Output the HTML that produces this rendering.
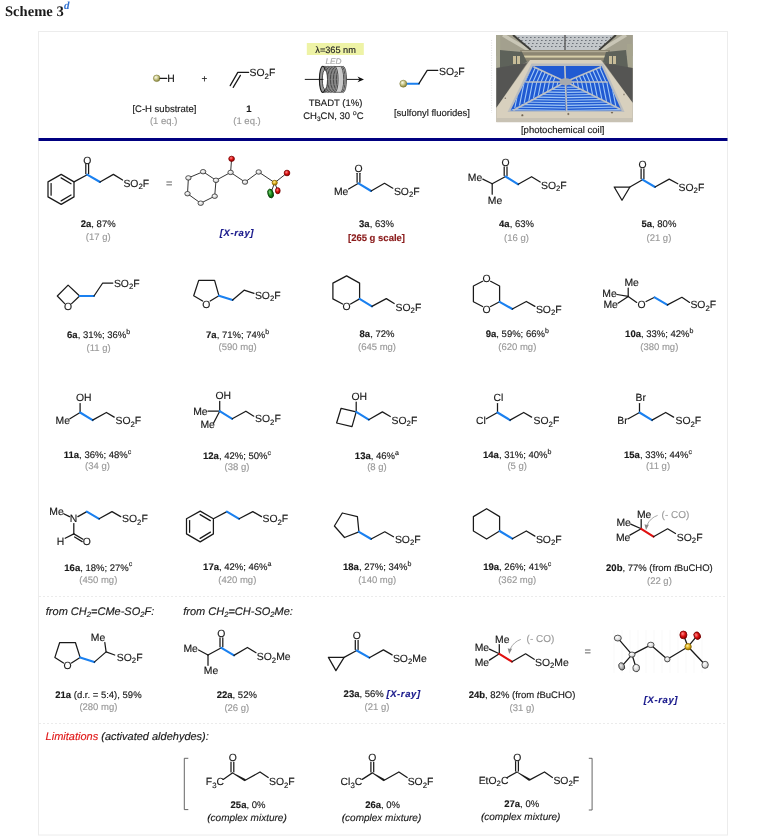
<!DOCTYPE html>
<html><head><meta charset="utf-8">
<style>
html,body{margin:0;padding:0;background:#fff;}
body{width:763px;height:838px;overflow:hidden;position:relative;}
svg{position:absolute;left:0;top:0;will-change:transform;}
text{font-family:"Liberation Sans",sans-serif;stroke-width:0.15px;stroke-linejoin:round;text-rendering:geometricPrecision;}
</style></head><body>
<svg width="763" height="838" viewBox="0 0 763 838">
<defs>
<radialGradient id="ballg" cx="0.38" cy="0.35" r="0.7"><stop offset="0" stop-color="#fbfbee"/><stop offset="0.4" stop-color="#d2cf96"/><stop offset="1" stop-color="#7e7c2c"/></radialGradient>
<radialGradient id="atg" cx="0.4" cy="0.35" r="0.7"><stop offset="0" stop-color="#ffffff"/><stop offset="0.7" stop-color="#d6d6d6"/><stop offset="1" stop-color="#999"/></radialGradient>
<radialGradient id="atg2" cx="0.4" cy="0.35" r="0.7"><stop offset="0" stop-color="#eeeeee"/><stop offset="0.6" stop-color="#aaaaaa"/><stop offset="1" stop-color="#666"/></radialGradient>
<radialGradient id="redg" cx="0.4" cy="0.35" r="0.7"><stop offset="0" stop-color="#ff8a8a"/><stop offset="0.5" stop-color="#dd1010"/><stop offset="1" stop-color="#800000"/></radialGradient>
<radialGradient id="greeng" cx="0.4" cy="0.35" r="0.7"><stop offset="0" stop-color="#7cd07c"/><stop offset="0.5" stop-color="#1a8a1a"/><stop offset="1" stop-color="#0a400a"/></radialGradient>
<radialGradient id="yelg" cx="0.4" cy="0.35" r="0.7"><stop offset="0" stop-color="#fff2a0"/><stop offset="0.5" stop-color="#e0b020"/><stop offset="1" stop-color="#8a6a00"/></radialGradient>
</defs>
<text x="5" y="16.2" font-size="14.6" font-weight="bold" fill="#1a1a1a" style="font-family:'Liberation Serif',serif">Scheme 3</text>
<text x="64.0" y="9.0" font-size="11" font-weight="bold" font-style="italic" fill="#2e6fd0" style="font-family:'Liberation Serif',serif">d</text>
<rect x="38.5" y="31.5" width="689" height="803.5" fill="#fff" stroke="#ececec" stroke-width="1"/>
<rect x="38.5" y="138" width="689" height="3" fill="#000080"/>
<defs><clipPath id="bluclip"><path d="M533,66 L601.5,66 L621.5,110.5 L510.5,110.5 Z"/></clipPath><clipPath id="photoclip"><rect x="496.2" y="35" width="136.6" height="87.3"/></clipPath></defs>
<g clip-path="url(#photoclip)">
<rect x="496.2" y="35" width="136.6" height="87.3" fill="#8a887c"/>
<path d="M496.2,35 L517,35 L532,51 L532,56 L496.2,56 Z" fill="#a3a08e"/>
<path d="M612,35 L632.8,35 L632.8,56 L598,56 L598,51 Z" fill="#a3a08e"/>
<path d="M503,35 L532,52" stroke="#c9c6b6" stroke-width="3.5"/>
<path d="M626,35 L598,52" stroke="#c9c6b6" stroke-width="3.5"/>
<rect x="496.2" y="35" width="4" height="40" fill="#a9a893"/>
<rect x="627" y="44" width="5.8" height="36" fill="#a6a48e"/>
<path d="M515,35 L614,35 L599,50 L531,50 Z" fill="#c3c7ca"/>
<path d="M518,37.5 L611,37.5" stroke="#6d737a" stroke-width="1.1" stroke-dasharray="1.6,2.4"/>
<path d="M521,40.5 L608,40.5" stroke="#6d737a" stroke-width="1.1" stroke-dasharray="1.6,2.4"/>
<path d="M524,43.5 L605,43.5" stroke="#6d737a" stroke-width="1.1" stroke-dasharray="1.6,2.4"/>
<path d="M527,46.5 L602,46.5" stroke="#6d737a" stroke-width="1.1" stroke-dasharray="1.6,2.4"/>
<path d="M513,35 L531,50 M616,35 L599,50" stroke="#3e3e3a" stroke-width="1.8"/>
<path d="M565,35 L565,50" stroke="#5a5a5a" stroke-width="1.4"/>
<rect x="520" y="50" width="90" height="11" fill="#8c8672"/>
<rect x="524" y="55.6" width="82" height="2" fill="#d6cea8"/>
<rect x="522" y="51" width="86" height="1.2" fill="#b0aa94"/>
<path d="M500,50 L522,52 L527,62 L508,70 L500,68 Z" fill="#5e625a"/>
<path d="M606,52 L626,50 L628,68 L619,70 L603,62 Z" fill="#5e625a"/>
<rect x="513" y="56" width="3" height="8" fill="#c8bc98"/><rect x="517" y="56" width="3" height="8" fill="#c8bc98"/>
<rect x="609" y="56" width="3" height="8" fill="#c8bc98"/><rect x="613" y="56" width="3" height="8" fill="#c8bc98"/>
<path d="M496.2,68 L527,63 L496.2,108 Z" fill="#555553"/>
<path d="M604,63 L632.8,68 L632.8,103 Z" fill="#555553"/>
<path d="M530,60 L601,60 L632.8,103 L632.8,122.3 L496.2,122.3 L496.2,108 Z" fill="#d8d0be"/>
<path d="M496.2,118 L632.8,118 L632.8,122.3 L496.2,122.3 Z" fill="#c8c2b4"/>
<path d="M531.5,63.5 L603,63.5 L624.5,112 L507.5,112 Z" fill="#b9bcbf"/>
<path d="M533,66 L601.5,66 L621.5,110.5 L510.5,110.5 Z" fill="#205ad2"/>
<defs><clipPath id="secLL"><path d="M565.7,81.8 L520,82 L507,112 Z"/></clipPath><clipPath id="secLR"><path d="M565.7,81.8 L612,82 L625,112 Z"/></clipPath><clipPath id="secB"><path d="M565.7,81.8 L507,112 L625,112 Z"/></clipPath><clipPath id="secUL"><path d="M565.7,81.8 L520,82 L533,66 Z"/></clipPath><clipPath id="secUR"><path d="M565.7,81.8 L612,82 L601.5,66 Z"/></clipPath><clipPath id="secT"><path d="M565.7,81.8 L533,66 L601.5,66 Z"/></clipPath></defs>
<g clip-path="url(#bluclip)"><g clip-path="url(#secLL)" fill="none"><path d="M520.0,82 L514.0,112 M524.2,82 L518.2,112 M528.4,82 L522.4,112 M532.6,82 L526.6,112 M536.8,82 L530.8,112 M541.0,82 L535.0,112 M545.2,82 L539.2,112 M549.4,82 L543.4,112 M553.6,82 L547.6,112 M557.8,82 L551.8,112 M562.0,82 L556.0,112 M566.2,82 L560.2,112" stroke="#a8cef8" stroke-width="1.15" opacity="0.95"/></g></g>
<g clip-path="url(#bluclip)"><g clip-path="url(#secLR)" fill="none"><path d="M611.0,82 L617.0,112 M606.8,82 L612.8,112 M602.6,82 L608.6,112 M598.4,82 L604.4,112 M594.2,82 L600.2,112 M590.0,82 L596.0,112 M585.8,82 L591.8,112 M581.6,82 L587.6,112 M577.4,82 L583.4,112 M573.2,82 L579.2,112 M569.0,82 L575.0,112 M564.8,82 L570.8,112" stroke="#a8cef8" stroke-width="1.15" opacity="0.95"/></g></g>
<g clip-path="url(#bluclip)"><g clip-path="url(#secB)" fill="none"><path d="M500,86.0 L565,87.2 M632,86.0 L567,87.2 M500,88.6 L565,89.8 M632,88.6 L567,89.8 M500,91.2 L565,92.4 M632,91.2 L567,92.4 M500,93.8 L565,95.0 M632,93.8 L567,95.0 M500,96.4 L565,97.6 M632,96.4 L567,97.6 M500,99.0 L565,100.2 M632,99.0 L567,100.2 M500,101.6 L565,102.8 M632,101.6 L567,102.8 M500,104.2 L565,105.4 M632,104.2 L567,105.4 M500,106.8 L565,108.0 M632,106.8 L567,108.0 M500,109.4 L565,110.6 M632,109.4 L567,110.6 M500,112.0 L565,113.2 M632,112.0 L567,113.2" stroke="#a8cef8" stroke-width="1.15" opacity="0.95"/></g></g>
<g clip-path="url(#bluclip)"><g clip-path="url(#secUL)" fill="none"><path d="M525.0,82 L532.0,66 M529.0,82 L536.0,66 M533.0,82 L540.0,66 M537.0,82 L544.0,66 M541.0,82 L548.0,66 M545.0,82 L552.0,66 M549.0,82 L556.0,66 M553.0,82 L560.0,66" stroke="#a8cef8" stroke-width="1.15" opacity="0.95"/></g></g>
<g clip-path="url(#bluclip)"><g clip-path="url(#secUR)" fill="none"><path d="M606.0,82 L599.0,66 M602.0,82 L595.0,66 M598.0,82 L591.0,66 M594.0,82 L587.0,66 M590.0,82 L583.0,66 M586.0,82 L579.0,66 M582.0,82 L575.0,66 M578.0,82 L571.0,66" stroke="#a8cef8" stroke-width="1.15" opacity="0.95"/></g></g>
<g stroke="#bcc0c4" stroke-width="1.7" stroke-linecap="round"><line x1="564.8" y1="66" x2="566.6" y2="110.5"/><line x1="526" y1="82" x2="607" y2="82"/><line x1="534" y1="67" x2="565.7" y2="81.8"/><line x1="600.5" y1="67" x2="565.7" y2="81.8"/><line x1="514" y1="110" x2="565.7" y2="81.8"/><line x1="620" y1="109" x2="565.7" y2="81.8"/></g>
<ellipse cx="565.7" cy="81.8" rx="6.5" ry="3.6" fill="#a6aaae"/>
<g fill="#6a5a40" stroke="#eee" stroke-width="0.4"><circle cx="522.3" cy="115.2" r="1.2"/><circle cx="568.3" cy="114" r="1.2"/><circle cx="612" cy="112.6" r="1.2"/><circle cx="505.3" cy="98.2" r="0.9"/><circle cx="624" cy="94.4" r="0.9"/></g>
</g>
<circle cx="156.7" cy="78.3" r="3.3" fill="url(#ballg)" stroke="#7c7a3a" stroke-width="0.6"/>
<path d="M160.0,78.3 L166.8,78.3" fill="none" stroke="#1a1a1a" stroke-width="1.25" stroke-linecap="round" stroke-linejoin="round"/>
<text x="167.3" y="82.2" font-size="10.4" text-anchor="start" font-weight="normal" font-style="normal" fill="#1a1a1a"  stroke="#1a1a1a">H</text>
<text x="204.5" y="81.8" font-size="10" text-anchor="middle" font-weight="normal" font-style="normal" fill="#1a1a1a"  stroke="#1a1a1a">+</text>
<path d="M230.2,85.6 L237.8,72.4 L248.6,72.4" fill="none" stroke="#1a1a1a" stroke-width="1.25" stroke-linecap="round" stroke-linejoin="round"/>
<path d="M233.2,87.4 L240.4,75.4" fill="none" stroke="#1a1a1a" stroke-width="1.25" stroke-linecap="round" stroke-linejoin="round"/>
<text x="249.6" y="76.4" font-size="10.4" text-anchor="start" fill="#1a1a1a" stroke="#1a1a1a">SO<tspan font-size="7.8" dy="2.6">2</tspan><tspan dy="-2.6">F</tspan></text>
<text x="164.4" y="111.8" font-size="9.5" text-anchor="middle" font-weight="normal" font-style="normal" fill="#1a1a1a"  stroke="#1a1a1a">[C-H substrate]</text>
<text x="163.7" y="124.2" font-size="9.5" text-anchor="middle" font-weight="normal" font-style="normal" fill="#9a9a9a"  stroke="#9a9a9a">(1 eq.)</text>
<text x="248.8" y="111.5" font-size="9.5" text-anchor="middle" font-weight="bold" font-style="normal" fill="#1a1a1a"  stroke="#1a1a1a">1</text>
<text x="247.0" y="124.2" font-size="9.5" text-anchor="middle" font-weight="normal" font-style="normal" fill="#9a9a9a"  stroke="#9a9a9a">(1 eq.)</text>
<rect x="306.8" y="43" width="57" height="12" fill="#eef3a6"/>
<text x="335.6" y="52.6" font-size="9.2" text-anchor="middle" font-weight="normal" font-style="normal" fill="#222"  stroke="#222">&#955;=365 nm</text>
<text x="333.5" y="64.0" font-size="8.3" text-anchor="middle" font-weight="normal" font-style="italic" fill="#aaaaaa"  stroke="#aaaaaa">LED</text>
<path d="M305.2,79.4 L322.0,79.4" fill="none" stroke="#1a1a1a" stroke-width="1.0" stroke-linecap="round" stroke-linejoin="round"/>
<path d="M346.6,79.4 L361.5,79.4" fill="none" stroke="#1a1a1a" stroke-width="1.0" stroke-linecap="round" stroke-linejoin="round"/>
<path d="M364,79.4 L357.5,76.6 L359.5,79.4 L357.5,82.2 Z" fill="#111"/>
<g>
<ellipse cx="343.2" cy="79.4" rx="3.3" ry="13.0" fill="#c8c8c8" stroke="#262626" stroke-width="0.75"/>
<ellipse cx="341.8" cy="79.4" rx="3.3" ry="13.0" fill="#c8c8c8" stroke="#262626" stroke-width="0.75"/>
<ellipse cx="340.4" cy="79.4" rx="3.3" ry="13.0" fill="#c8c8c8" stroke="#262626" stroke-width="0.75"/>
<rect x="334.5" y="66.5" width="5.5" height="25.8" fill="#d0d0d0"/>
<path d="M334.5,66.5 L340,66.5 M334.5,92.3 L340,92.3" stroke="#333" stroke-width="0.7"/>
<ellipse cx="334.8" cy="79.4" rx="3.3" ry="13.0" fill="#bdbdbd" stroke="#262626" stroke-width="0.75"/>
<ellipse cx="333.3" cy="79.4" rx="3.3" ry="13.0" fill="#bdbdbd" stroke="#262626" stroke-width="0.75"/>
<ellipse cx="331.8" cy="79.4" rx="3.3" ry="13.0" fill="#bdbdbd" stroke="#262626" stroke-width="0.75"/>
<ellipse cx="330.3" cy="79.4" rx="3.3" ry="13.0" fill="#bdbdbd" stroke="#262626" stroke-width="0.75"/>
<ellipse cx="328.8" cy="79.4" rx="3.3" ry="13.0" fill="#bdbdbd" stroke="#262626" stroke-width="0.75"/>
<ellipse cx="327.3" cy="79.4" rx="3.3" ry="13.0" fill="#bdbdbd" stroke="#262626" stroke-width="0.75"/>
<ellipse cx="325.8" cy="79.4" rx="3.3" ry="13.0" fill="#bdbdbd" stroke="#262626" stroke-width="0.75"/>
<ellipse cx="324.3" cy="79.4" rx="3.3" ry="13.0" fill="#bdbdbd" stroke="#262626" stroke-width="0.75"/>
<ellipse cx="322.8" cy="79.4" rx="3.4" ry="13.1" fill="#9a9a9a" stroke="#1a1a1a" stroke-width="1.1"/>
<ellipse cx="324.9" cy="79.6" rx="2.6" ry="9.8" fill="#fff" stroke="#2a2a2a" stroke-width="0.8"/>
</g>
<path d="M319.5,79.4 L323.0,79.4" fill="none" stroke="#1a1a1a" stroke-width="1.0" stroke-linecap="round" stroke-linejoin="round"/>
<text x="335.5" y="106.4" font-size="9.5" text-anchor="middle" font-weight="normal" font-style="normal" fill="#1a1a1a"  stroke="#1a1a1a">TBADT (1%)</text>
<text x="333.4" y="118.8" font-size="9.5" text-anchor="middle" fill="#1a1a1a" stroke="#1a1a1a">CH<tspan font-size="6.5" dy="2">3</tspan><tspan dy="-2">CN, 30 </tspan><tspan font-size="7" dy="-3.8">o</tspan><tspan dy="3.8">C</tspan></text>
<path d="M406.3,83.7 L418.9,83.7" fill="none" stroke="#1a80f0" stroke-width="2.1" stroke-linecap="round" stroke-linejoin="round"/>
<path d="M418.9,83.7 L427.2,70.3 L437.8,70.3" fill="none" stroke="#1a1a1a" stroke-width="1.25" stroke-linecap="round" stroke-linejoin="round"/>
<circle cx="403.3" cy="83.7" r="3.5" fill="url(#ballg)" stroke="#7c7a3a" stroke-width="0.6"/>
<text x="439.0" y="74.8" font-size="10.4" text-anchor="start" fill="#1a1a1a" stroke="#1a1a1a">SO<tspan font-size="7.8" dy="2.6">2</tspan><tspan dy="-2.6">F</tspan></text>
<text x="432.0" y="116.0" font-size="9.5" text-anchor="middle" font-weight="normal" font-style="normal" fill="#1a1a1a"  stroke="#1a1a1a">[sulfonyl fluorides]</text>
<line x1="491.6" y1="40" x2="491.6" y2="113" stroke="#d8d8d8" stroke-width="0.8" stroke-dasharray="1,1.5"/>
<text x="562.7" y="133.2" font-size="9.5" text-anchor="middle" font-weight="normal" font-style="normal" fill="#1a1a1a"  stroke="#1a1a1a">[photochemical coil]</text>
<path d="M61.2,174.4 L74.0,181.9 L74.0,196.9 L61.2,204.4 L48.0,196.9 L48.0,181.9 Z" fill="none" stroke="#1a1a1a" stroke-width="1.25" stroke-linejoin="round"/>
<path d="M61.1,177.9 L71.0,183.8" fill="none" stroke="#1a1a1a" stroke-width="1.25" stroke-linecap="round" stroke-linejoin="round"/>
<path d="M71.0,195.0 L61.1,200.9" fill="none" stroke="#1a1a1a" stroke-width="1.25" stroke-linecap="round" stroke-linejoin="round"/>
<path d="M51.1,195.2 L51.1,183.6" fill="none" stroke="#1a1a1a" stroke-width="1.25" stroke-linecap="round" stroke-linejoin="round"/>
<path d="M74.0,181.9 L87.2,174.7" fill="none" stroke="#1a1a1a" stroke-width="1.25" stroke-linecap="round" stroke-linejoin="round"/>
<path d="M85.8,173.7 L85.8,164.0" fill="none" stroke="#1a1a1a" stroke-width="1.25" stroke-linecap="round" stroke-linejoin="round"/>
<path d="M88.6,173.7 L88.6,164.0" fill="none" stroke="#1a1a1a" stroke-width="1.25" stroke-linecap="round" stroke-linejoin="round"/>
<text x="87.2" y="164.0" font-size="10.4" text-anchor="middle" font-weight="normal" font-style="normal" fill="#1a1a1a"  stroke="#1a1a1a">O</text>
<path d="M87.2,174.7 L100.0,182.0" fill="none" stroke="#1a80f0" stroke-width="2.1" stroke-linecap="round" stroke-linejoin="round"/>
<path d="M100.0,182.0 L113.4,174.4 L122.6,180.0" fill="none" stroke="#1a1a1a" stroke-width="1.25" stroke-linecap="round" stroke-linejoin="round"/>
<text x="123.4" y="186.5" font-size="10.4" text-anchor="start" fill="#1a1a1a" stroke="#1a1a1a">SO<tspan font-size="7.8" dy="2.6">2</tspan><tspan dy="-2.6">F</tspan></text>
<text x="98.2" y="227.3" font-size="9.5" text-anchor="middle" font-weight="normal" font-style="normal" fill="#1a1a1a"  stroke="#1a1a1a"><tspan font-weight="bold">2a</tspan>, 87%</text>
<text x="98.2" y="240.1" font-size="9.5" text-anchor="middle" font-weight="normal" font-style="normal" fill="#9a9a9a"  stroke="#9a9a9a">(17 g)</text>
<text x="169.2" y="187.3" font-size="11" text-anchor="middle" font-weight="normal" font-style="normal" fill="#888"  stroke="#888">=</text>
<path d="M203.1,171.7 L216.0,180.3 L214.7,196.2 L200.7,203.2 L187.5,193.7 L188.4,177.9 Z" fill="none" stroke="#2a2a2a" stroke-width="0.95" stroke-linejoin="round"/>
<path d="M216.0,180.3 L230.6,172.4 L245.0,182.1 L258.7,172.0 L274.7,182.7" fill="none" stroke="#2a2a2a" stroke-width="0.95" stroke-linecap="round" stroke-linejoin="round"/>
<path d="M230.6,172.4 L231.6,158.8" fill="none" stroke="#2a2a2a" stroke-width="0.95" stroke-linecap="round" stroke-linejoin="round"/>
<path d="M274.7,182.7 L287.0,173.0" fill="none" stroke="#2a2a2a" stroke-width="0.95" stroke-linecap="round" stroke-linejoin="round"/>
<path d="M274.7,182.7 L277.8,190.7" fill="none" stroke="#2a2a2a" stroke-width="0.95" stroke-linecap="round" stroke-linejoin="round"/>
<path d="M274.7,182.7 L270.6,193.5" fill="none" stroke="#2a2a2a" stroke-width="0.95" stroke-linecap="round" stroke-linejoin="round"/>
<ellipse cx="203.1" cy="171.7" rx="2.71" ry="2.24" transform="rotate(0 203.1 171.7)" fill="url(#atg)" stroke="#333" stroke-width="0.8"/>
<ellipse cx="216.0" cy="180.3" rx="2.71" ry="2.24" transform="rotate(0 216.0 180.3)" fill="url(#atg)" stroke="#333" stroke-width="0.8"/>
<ellipse cx="214.7" cy="196.2" rx="2.71" ry="2.24" transform="rotate(0 214.7 196.2)" fill="url(#atg)" stroke="#333" stroke-width="0.8"/>
<ellipse cx="200.7" cy="203.2" rx="2.71" ry="2.24" transform="rotate(0 200.7 203.2)" fill="url(#atg)" stroke="#333" stroke-width="0.8"/>
<ellipse cx="187.5" cy="193.7" rx="2.71" ry="2.24" transform="rotate(0 187.5 193.7)" fill="url(#atg)" stroke="#333" stroke-width="0.8"/>
<ellipse cx="188.4" cy="177.9" rx="2.71" ry="2.24" transform="rotate(0 188.4 177.9)" fill="url(#atg)" stroke="#333" stroke-width="0.8"/>
<ellipse cx="230.6" cy="172.4" rx="2.71" ry="2.24" transform="rotate(0 230.6 172.4)" fill="url(#atg)" stroke="#333" stroke-width="0.8"/>
<ellipse cx="245.0" cy="182.1" rx="2.71" ry="2.24" transform="rotate(0 245.0 182.1)" fill="url(#atg)" stroke="#333" stroke-width="0.8"/>
<ellipse cx="258.7" cy="172.0" rx="2.71" ry="2.24" transform="rotate(0 258.7 172.0)" fill="url(#atg)" stroke="#333" stroke-width="0.8"/>
<ellipse cx="231.6" cy="158.8" rx="2.83" ry="2.60" transform="rotate(0 231.6 158.8)" fill="url(#redg)" stroke="#700" stroke-width="0.8"/>
<ellipse cx="287.0" cy="173.0" rx="2.83" ry="2.83" transform="rotate(0 287.0 173.0)" fill="url(#redg)" stroke="#700" stroke-width="0.8"/>
<ellipse cx="277.8" cy="190.7" rx="2.36" ry="3.07" transform="rotate(0 277.8 190.7)" fill="url(#redg)" stroke="#700" stroke-width="0.8"/>
<ellipse cx="270.6" cy="193.5" rx="2.71" ry="4.48" transform="rotate(-15 270.6 193.5)" fill="url(#greeng)" stroke="#030" stroke-width="0.8"/>
<ellipse cx="274.7" cy="182.7" rx="2.60" ry="2.36" transform="rotate(0 274.7 182.7)" fill="url(#yelg)" stroke="#860" stroke-width="0.8"/>
<text x="237.0" y="236.2" font-size="9.5" text-anchor="middle" font-weight="bold" font-style="italic" fill="#1a1a8c" letter-spacing="0.6" stroke="#1a1a8c">[X-ray]</text>
<text x="341.2" y="194.8" font-size="10.4" text-anchor="middle" font-weight="normal" font-style="normal" fill="#1a1a1a"  stroke="#1a1a1a">Me</text>
<path d="M348.6,189.0 L358.5,183.3" fill="none" stroke="#1a1a1a" stroke-width="1.25" stroke-linecap="round" stroke-linejoin="round"/>
<path d="M357.1,182.3 L357.1,173.3" fill="none" stroke="#1a1a1a" stroke-width="1.25" stroke-linecap="round" stroke-linejoin="round"/>
<path d="M359.9,182.3 L359.9,173.3" fill="none" stroke="#1a1a1a" stroke-width="1.25" stroke-linecap="round" stroke-linejoin="round"/>
<text x="358.5" y="172.0" font-size="10.4" text-anchor="middle" font-weight="normal" font-style="normal" fill="#1a1a1a"  stroke="#1a1a1a">O</text>
<path d="M358.5,183.3 L371.1,191.0" fill="none" stroke="#1a80f0" stroke-width="2.1" stroke-linecap="round" stroke-linejoin="round"/>
<path d="M371.1,191.0 L384.5,183.3 L392.8,188.2" fill="none" stroke="#1a1a1a" stroke-width="1.25" stroke-linecap="round" stroke-linejoin="round"/>
<text x="393.9" y="194.8" font-size="10.4" text-anchor="start" fill="#1a1a1a" stroke="#1a1a1a">SO<tspan font-size="7.8" dy="2.6">2</tspan><tspan dy="-2.6">F</tspan></text>
<text x="376.5" y="227.1" font-size="9.5" text-anchor="middle" font-weight="normal" font-style="normal" fill="#1a1a1a"  stroke="#1a1a1a"><tspan font-weight="bold">3a</tspan>, 63%</text>
<text x="376.5" y="240.5" font-size="9.5" text-anchor="middle" font-weight="bold" font-style="normal" fill="#8b1c1c"  stroke="#8b1c1c">[265 g scale]</text>
<text x="475.0" y="180.7" font-size="10.4" text-anchor="middle" font-weight="normal" font-style="normal" fill="#1a1a1a"  stroke="#1a1a1a">Me</text>
<path d="M482.8,179.1 L492.2,183.8" fill="none" stroke="#1a1a1a" stroke-width="1.25" stroke-linecap="round" stroke-linejoin="round"/>
<path d="M492.2,183.8 L492.2,194.2" fill="none" stroke="#1a1a1a" stroke-width="1.25" stroke-linecap="round" stroke-linejoin="round"/>
<text x="495.0" y="203.5" font-size="10.4" text-anchor="middle" font-weight="normal" font-style="normal" fill="#1a1a1a"  stroke="#1a1a1a">Me</text>
<path d="M492.2,183.8 L505.6,176.5" fill="none" stroke="#1a1a1a" stroke-width="1.25" stroke-linecap="round" stroke-linejoin="round"/>
<path d="M504.2,175.5 L504.2,166.8" fill="none" stroke="#1a1a1a" stroke-width="1.25" stroke-linecap="round" stroke-linejoin="round"/>
<path d="M507.0,175.5 L507.0,166.8" fill="none" stroke="#1a1a1a" stroke-width="1.25" stroke-linecap="round" stroke-linejoin="round"/>
<text x="505.6" y="165.7" font-size="10.4" text-anchor="middle" font-weight="normal" font-style="normal" fill="#1a1a1a"  stroke="#1a1a1a">O</text>
<path d="M505.6,176.5 L518.2,184.3" fill="none" stroke="#1a80f0" stroke-width="2.1" stroke-linecap="round" stroke-linejoin="round"/>
<path d="M518.2,184.3 L531.6,176.7 L540.2,182.0" fill="none" stroke="#1a1a1a" stroke-width="1.25" stroke-linecap="round" stroke-linejoin="round"/>
<text x="541.0" y="188.5" font-size="10.4" text-anchor="start" fill="#1a1a1a" stroke="#1a1a1a">SO<tspan font-size="7.8" dy="2.6">2</tspan><tspan dy="-2.6">F</tspan></text>
<text x="516.5" y="227.3" font-size="9.5" text-anchor="middle" font-weight="normal" font-style="normal" fill="#1a1a1a"  stroke="#1a1a1a"><tspan font-weight="bold">4a</tspan>, 63%</text>
<text x="516.5" y="240.9" font-size="9.5" text-anchor="middle" font-weight="normal" font-style="normal" fill="#9a9a9a"  stroke="#9a9a9a">(16 g)</text>
<path d="M614.2,187.0 L629.9,187.0 L622.0,200.3 Z" fill="none" stroke="#1a1a1a" stroke-width="1.25" stroke-linejoin="round"/>
<path d="M629.9,187.0 L642.5,179.7" fill="none" stroke="#1a1a1a" stroke-width="1.25" stroke-linecap="round" stroke-linejoin="round"/>
<path d="M641.1,178.7 L641.1,168.8" fill="none" stroke="#1a1a1a" stroke-width="1.25" stroke-linecap="round" stroke-linejoin="round"/>
<path d="M643.9,178.7 L643.9,168.8" fill="none" stroke="#1a1a1a" stroke-width="1.25" stroke-linecap="round" stroke-linejoin="round"/>
<text x="642.5" y="167.6" font-size="10.4" text-anchor="middle" font-weight="normal" font-style="normal" fill="#1a1a1a"  stroke="#1a1a1a">O</text>
<path d="M642.5,179.7 L655.0,187.0" fill="none" stroke="#1a80f0" stroke-width="2.1" stroke-linecap="round" stroke-linejoin="round"/>
<path d="M655.0,187.0 L669.2,179.1 L677.8,183.8" fill="none" stroke="#1a1a1a" stroke-width="1.25" stroke-linecap="round" stroke-linejoin="round"/>
<text x="678.6" y="190.6" font-size="10.4" text-anchor="start" fill="#1a1a1a" stroke="#1a1a1a">SO<tspan font-size="7.8" dy="2.6">2</tspan><tspan dy="-2.6">F</tspan></text>
<text x="658.9" y="227.3" font-size="9.5" text-anchor="middle" font-weight="normal" font-style="normal" fill="#1a1a1a"  stroke="#1a1a1a"><tspan font-weight="bold">5a</tspan>, 80%</text>
<text x="658.9" y="240.9" font-size="9.5" text-anchor="middle" font-weight="normal" font-style="normal" fill="#9a9a9a"  stroke="#9a9a9a">(21 g)</text>
<path d="M64.7,303.6 L57.3,296.0 L68.1,285.1 L79.6,296.0 L71.6,303.6" fill="none" stroke="#1a1a1a" stroke-width="1.25" stroke-linecap="round" stroke-linejoin="round"/>
<text x="68.1" y="310.4" font-size="10.4" text-anchor="middle" font-weight="normal" font-style="normal" fill="#1a1a1a"  stroke="#1a1a1a">O</text>
<path d="M79.6,296.0 L94.0,296.0" fill="none" stroke="#1a80f0" stroke-width="2.1" stroke-linecap="round" stroke-linejoin="round"/>
<path d="M94.0,296.0 L102.7,283.0 L112.8,283.0" fill="none" stroke="#1a1a1a" stroke-width="1.25" stroke-linecap="round" stroke-linejoin="round"/>
<text x="113.9" y="286.6" font-size="10.4" text-anchor="start" fill="#1a1a1a" stroke="#1a1a1a">SO<tspan font-size="7.8" dy="2.6">2</tspan><tspan dy="-2.6">F</tspan></text>
<text x="98.6" y="338.1" font-size="9.5" text-anchor="middle" font-weight="normal" font-style="normal" fill="#1a1a1a"  stroke="#1a1a1a"><tspan font-weight="bold">6a</tspan>, 31%; 36%<tspan font-size="7" dy="-4.2">b</tspan></text>
<text x="98.6" y="350.5" font-size="9.5" text-anchor="middle" font-weight="normal" font-style="normal" fill="#9a9a9a"  stroke="#9a9a9a">(11 g)</text>
<path d="M202.6,301.0 L193.7,295.7 L198.7,280.4 L214.6,280.4 L218.9,295.7 L210.2,301.0" fill="none" stroke="#1a1a1a" stroke-width="1.25" stroke-linecap="round" stroke-linejoin="round"/>
<text x="206.3" y="307.8" font-size="10.4" text-anchor="middle" font-weight="normal" font-style="normal" fill="#1a1a1a"  stroke="#1a1a1a">O</text>
<path d="M218.9,295.7 L232.6,300.0" fill="none" stroke="#1a80f0" stroke-width="2.1" stroke-linecap="round" stroke-linejoin="round"/>
<path d="M232.6,300.0 L244.1,290.2 L254.0,293.4" fill="none" stroke="#1a1a1a" stroke-width="1.25" stroke-linecap="round" stroke-linejoin="round"/>
<text x="254.9" y="298.5" font-size="10.4" text-anchor="start" fill="#1a1a1a" stroke="#1a1a1a">SO<tspan font-size="7.8" dy="2.6">2</tspan><tspan dy="-2.6">F</tspan></text>
<text x="237.6" y="338.1" font-size="9.5" text-anchor="middle" font-weight="normal" font-style="normal" fill="#1a1a1a"  stroke="#1a1a1a"><tspan font-weight="bold">7a</tspan>, 71%; 74%<tspan font-size="7" dy="-4.2">b</tspan></text>
<text x="237.6" y="350.2" font-size="9.5" text-anchor="middle" font-weight="normal" font-style="normal" fill="#9a9a9a"  stroke="#9a9a9a">(590 mg)</text>
<path d="M342.6,304.0 L332.9,298.9 L332.9,283.1 L346.6,275.9 L359.6,283.1 L359.6,298.9 L350.6,304.0" fill="none" stroke="#1a1a1a" stroke-width="1.25" stroke-linecap="round" stroke-linejoin="round"/>
<text x="346.6" y="310.3" font-size="10.4" text-anchor="middle" font-weight="normal" font-style="normal" fill="#1a1a1a"  stroke="#1a1a1a">O</text>
<path d="M359.6,298.9 L371.9,306.4" fill="none" stroke="#1a80f0" stroke-width="2.1" stroke-linecap="round" stroke-linejoin="round"/>
<path d="M371.9,306.4 L386.3,298.6 L394.2,303.5" fill="none" stroke="#1a1a1a" stroke-width="1.25" stroke-linecap="round" stroke-linejoin="round"/>
<text x="395.6" y="310.5" font-size="10.4" text-anchor="start" fill="#1a1a1a" stroke="#1a1a1a">SO<tspan font-size="7.8" dy="2.6">2</tspan><tspan dy="-2.6">F</tspan></text>
<text x="377.0" y="337.4" font-size="9.5" text-anchor="middle" font-weight="normal" font-style="normal" fill="#1a1a1a"  stroke="#1a1a1a"><tspan font-weight="bold">8a</tspan>, 72%</text>
<text x="377.0" y="349.5" font-size="9.5" text-anchor="middle" font-weight="normal" font-style="normal" fill="#9a9a9a"  stroke="#9a9a9a">(645 mg)</text>
<path d="M482.6,281.3 L473.4,286.0 L473.4,301.8 L482.6,306.5" fill="none" stroke="#1a1a1a" stroke-width="1.25" stroke-linecap="round" stroke-linejoin="round"/>
<path d="M490.6,281.3 L499.6,286.0 L499.6,301.8 L490.6,306.5" fill="none" stroke="#1a1a1a" stroke-width="1.25" stroke-linecap="round" stroke-linejoin="round"/>
<text x="486.6" y="282.3" font-size="10.4" text-anchor="middle" font-weight="normal" font-style="normal" fill="#1a1a1a"  stroke="#1a1a1a">O</text>
<text x="486.6" y="312.6" font-size="10.4" text-anchor="middle" font-weight="normal" font-style="normal" fill="#1a1a1a"  stroke="#1a1a1a">O</text>
<path d="M499.6,301.8 L512.3,309.0" fill="none" stroke="#1a80f0" stroke-width="2.1" stroke-linecap="round" stroke-linejoin="round"/>
<path d="M512.3,309.0 L526.3,301.5 L534.9,306.4" fill="none" stroke="#1a1a1a" stroke-width="1.25" stroke-linecap="round" stroke-linejoin="round"/>
<text x="535.9" y="312.6" font-size="10.4" text-anchor="start" fill="#1a1a1a" stroke="#1a1a1a">SO<tspan font-size="7.8" dy="2.6">2</tspan><tspan dy="-2.6">F</tspan></text>
<text x="517.3" y="337.4" font-size="9.5" text-anchor="middle" font-weight="normal" font-style="normal" fill="#1a1a1a"  stroke="#1a1a1a"><tspan font-weight="bold">9a</tspan>, 59%; 66%<tspan font-size="7" dy="-4.2">b</tspan></text>
<text x="517.3" y="349.5" font-size="9.5" text-anchor="middle" font-weight="normal" font-style="normal" fill="#9a9a9a"  stroke="#9a9a9a">(620 mg)</text>
<text x="631.6" y="286.2" font-size="10.4" text-anchor="middle" font-weight="normal" font-style="normal" fill="#1a1a1a"  stroke="#1a1a1a">Me</text>
<text x="609.5" y="297.3" font-size="10.4" text-anchor="middle" font-weight="normal" font-style="normal" fill="#1a1a1a"  stroke="#1a1a1a">Me</text>
<text x="610.7" y="308.3" font-size="10.4" text-anchor="middle" font-weight="normal" font-style="normal" fill="#1a1a1a"  stroke="#1a1a1a">Me</text>
<path d="M628.2,296.4 L628.2,288.0" fill="none" stroke="#1a1a1a" stroke-width="1.25" stroke-linecap="round" stroke-linejoin="round"/>
<path d="M628.2,296.4 L617.0,294.5" fill="none" stroke="#1a1a1a" stroke-width="1.25" stroke-linecap="round" stroke-linejoin="round"/>
<path d="M628.2,296.4 L618.0,303.2" fill="none" stroke="#1a1a1a" stroke-width="1.25" stroke-linecap="round" stroke-linejoin="round"/>
<path d="M628.2,296.4 L636.7,302.4" fill="none" stroke="#1a1a1a" stroke-width="1.25" stroke-linecap="round" stroke-linejoin="round"/>
<text x="641.6" y="308.3" font-size="10.4" text-anchor="middle" font-weight="normal" font-style="normal" fill="#1a1a1a"  stroke="#1a1a1a">O</text>
<path d="M646.1,301.5 L654.6,297.3" fill="none" stroke="#1a1a1a" stroke-width="1.25" stroke-linecap="round" stroke-linejoin="round"/>
<path d="M654.6,297.3 L667.4,304.9" fill="none" stroke="#1a80f0" stroke-width="2.1" stroke-linecap="round" stroke-linejoin="round"/>
<path d="M667.4,304.9 L681.9,297.3 L689.6,302.4" fill="none" stroke="#1a1a1a" stroke-width="1.25" stroke-linecap="round" stroke-linejoin="round"/>
<text x="690.4" y="308.3" font-size="10.4" text-anchor="start" fill="#1a1a1a" stroke="#1a1a1a">SO<tspan font-size="7.8" dy="2.6">2</tspan><tspan dy="-2.6">F</tspan></text>
<text x="659.3" y="336.8" font-size="9.5" text-anchor="middle" font-weight="normal" font-style="normal" fill="#1a1a1a"  stroke="#1a1a1a"><tspan font-weight="bold">10a</tspan>, 33%; 42%<tspan font-size="7" dy="-4.2">b</tspan></text>
<text x="659.3" y="349.7" font-size="9.5" text-anchor="middle" font-weight="normal" font-style="normal" fill="#9a9a9a"  stroke="#9a9a9a">(380 mg)</text>
<text x="83.7" y="401.4" font-size="10.4" text-anchor="middle" font-weight="normal" font-style="normal" fill="#1a1a1a"  stroke="#1a1a1a">OH</text>
<path d="M80.1,412.5 L80.1,403.5" fill="none" stroke="#1a1a1a" stroke-width="1.25" stroke-linecap="round" stroke-linejoin="round"/>
<text x="62.8" y="424.3" font-size="10.4" text-anchor="middle" font-weight="normal" font-style="normal" fill="#1a1a1a"  stroke="#1a1a1a">Me</text>
<path d="M69.9,418.8 L80.1,412.5" fill="none" stroke="#1a1a1a" stroke-width="1.25" stroke-linecap="round" stroke-linejoin="round"/>
<path d="M80.1,412.5 L92.6,420.1" fill="none" stroke="#1a80f0" stroke-width="2.1" stroke-linecap="round" stroke-linejoin="round"/>
<path d="M92.6,420.1 L106.4,412.5 L114.2,417.1" fill="none" stroke="#1a1a1a" stroke-width="1.25" stroke-linecap="round" stroke-linejoin="round"/>
<text x="115.5" y="424.3" font-size="10.4" text-anchor="start" fill="#1a1a1a" stroke="#1a1a1a">SO<tspan font-size="7.8" dy="2.6">2</tspan><tspan dy="-2.6">F</tspan></text>
<text x="97.5" y="458.0" font-size="9.5" text-anchor="middle" font-weight="normal" font-style="normal" fill="#1a1a1a"  stroke="#1a1a1a"><tspan font-weight="bold">11a</tspan>, 36%; 48%<tspan font-size="7" dy="-4.2">c</tspan></text>
<text x="97.5" y="469.4" font-size="9.5" text-anchor="middle" font-weight="normal" font-style="normal" fill="#9a9a9a"  stroke="#9a9a9a">(34 g)</text>
<text x="223.3" y="399.4" font-size="10.4" text-anchor="middle" font-weight="normal" font-style="normal" fill="#1a1a1a"  stroke="#1a1a1a">OH</text>
<path d="M219.7,411.2 L219.7,401.4" fill="none" stroke="#1a1a1a" stroke-width="1.25" stroke-linecap="round" stroke-linejoin="round"/>
<text x="200.4" y="414.9" font-size="10.4" text-anchor="middle" font-weight="normal" font-style="normal" fill="#1a1a1a"  stroke="#1a1a1a">Me</text>
<path d="M208.0,411.2 L219.7,411.2" fill="none" stroke="#1a1a1a" stroke-width="1.25" stroke-linecap="round" stroke-linejoin="round"/>
<text x="207.6" y="427.6" font-size="10.4" text-anchor="middle" font-weight="normal" font-style="normal" fill="#1a1a1a"  stroke="#1a1a1a">Me</text>
<path d="M219.7,411.2 L213.6,423.0" fill="none" stroke="#1a1a1a" stroke-width="1.25" stroke-linecap="round" stroke-linejoin="round"/>
<path d="M219.7,411.2 L232.2,418.8" fill="none" stroke="#1a80f0" stroke-width="2.1" stroke-linecap="round" stroke-linejoin="round"/>
<path d="M232.2,418.8 L245.9,411.2 L253.8,416.2" fill="none" stroke="#1a1a1a" stroke-width="1.25" stroke-linecap="round" stroke-linejoin="round"/>
<text x="255.1" y="422.4" font-size="10.4" text-anchor="start" fill="#1a1a1a" stroke="#1a1a1a">SO<tspan font-size="7.8" dy="2.6">2</tspan><tspan dy="-2.6">F</tspan></text>
<text x="237.0" y="458.7" font-size="9.5" text-anchor="middle" font-weight="normal" font-style="normal" fill="#1a1a1a"  stroke="#1a1a1a"><tspan font-weight="bold">12a</tspan>, 42%; 50%<tspan font-size="7" dy="-4.2">c</tspan></text>
<text x="237.0" y="470.0" font-size="9.5" text-anchor="middle" font-weight="normal" font-style="normal" fill="#9a9a9a"  stroke="#9a9a9a">(38 g)</text>
<text x="359.2" y="400.1" font-size="10.4" text-anchor="middle" font-weight="normal" font-style="normal" fill="#1a1a1a"  stroke="#1a1a1a">OH</text>
<path d="M356.2,411.9 L356.2,402.0" fill="none" stroke="#1a1a1a" stroke-width="1.25" stroke-linecap="round" stroke-linejoin="round"/>
<path d="M356.2,411.9 L341.1,408.3 L336.6,423.0 L352.0,426.7 Z" fill="none" stroke="#1a1a1a" stroke-width="1.25" stroke-linejoin="round"/>
<path d="M356.2,411.9 L368.7,419.7" fill="none" stroke="#1a80f0" stroke-width="2.1" stroke-linecap="round" stroke-linejoin="round"/>
<path d="M368.7,419.7 L382.4,411.9 L390.3,416.5" fill="none" stroke="#1a1a1a" stroke-width="1.25" stroke-linecap="round" stroke-linejoin="round"/>
<text x="391.6" y="423.7" font-size="10.4" text-anchor="start" fill="#1a1a1a" stroke="#1a1a1a">SO<tspan font-size="7.8" dy="2.6">2</tspan><tspan dy="-2.6">F</tspan></text>
<text x="376.9" y="458.7" font-size="9.5" text-anchor="middle" font-weight="normal" font-style="normal" fill="#1a1a1a"  stroke="#1a1a1a"><tspan font-weight="bold">13a</tspan>, 46%<tspan font-size="7" dy="-4.2">a</tspan></text>
<text x="376.9" y="470.0" font-size="9.5" text-anchor="middle" font-weight="normal" font-style="normal" fill="#9a9a9a"  stroke="#9a9a9a">(8 g)</text>
<text x="498.5" y="401.4" font-size="10.4" text-anchor="middle" font-weight="normal" font-style="normal" fill="#1a1a1a"  stroke="#1a1a1a">Cl</text>
<path d="M497.5,412.5 L497.5,403.5" fill="none" stroke="#1a1a1a" stroke-width="1.25" stroke-linecap="round" stroke-linejoin="round"/>
<text x="480.8" y="424.3" font-size="10.4" text-anchor="middle" font-weight="normal" font-style="normal" fill="#1a1a1a"  stroke="#1a1a1a">Cl</text>
<path d="M486.4,418.8 L497.5,412.5" fill="none" stroke="#1a1a1a" stroke-width="1.25" stroke-linecap="round" stroke-linejoin="round"/>
<path d="M497.5,412.5 L510.0,420.1" fill="none" stroke="#1a80f0" stroke-width="2.1" stroke-linecap="round" stroke-linejoin="round"/>
<path d="M510.0,420.1 L523.7,412.5 L531.6,417.1" fill="none" stroke="#1a1a1a" stroke-width="1.25" stroke-linecap="round" stroke-linejoin="round"/>
<text x="533.6" y="424.3" font-size="10.4" text-anchor="start" fill="#1a1a1a" stroke="#1a1a1a">SO<tspan font-size="7.8" dy="2.6">2</tspan><tspan dy="-2.6">F</tspan></text>
<text x="517.2" y="458.0" font-size="9.5" text-anchor="middle" font-weight="normal" font-style="normal" fill="#1a1a1a"  stroke="#1a1a1a"><tspan font-weight="bold">14a</tspan>, 31%; 40%<tspan font-size="7" dy="-4.2">b</tspan></text>
<text x="517.2" y="469.4" font-size="9.5" text-anchor="middle" font-weight="normal" font-style="normal" fill="#9a9a9a"  stroke="#9a9a9a">(5 g)</text>
<text x="640.8" y="401.4" font-size="10.4" text-anchor="middle" font-weight="normal" font-style="normal" fill="#1a1a1a"  stroke="#1a1a1a">Br</text>
<path d="M639.5,412.5 L639.5,403.5" fill="none" stroke="#1a1a1a" stroke-width="1.25" stroke-linecap="round" stroke-linejoin="round"/>
<text x="622.4" y="424.0" font-size="10.4" text-anchor="middle" font-weight="normal" font-style="normal" fill="#1a1a1a"  stroke="#1a1a1a">Br</text>
<path d="M628.3,418.8 L639.5,412.5" fill="none" stroke="#1a1a1a" stroke-width="1.25" stroke-linecap="round" stroke-linejoin="round"/>
<path d="M639.5,412.5 L652.0,420.1" fill="none" stroke="#1a80f0" stroke-width="2.1" stroke-linecap="round" stroke-linejoin="round"/>
<path d="M652.0,420.1 L665.7,412.5 L673.6,417.1" fill="none" stroke="#1a1a1a" stroke-width="1.25" stroke-linecap="round" stroke-linejoin="round"/>
<text x="675.5" y="424.3" font-size="10.4" text-anchor="start" fill="#1a1a1a" stroke="#1a1a1a">SO<tspan font-size="7.8" dy="2.6">2</tspan><tspan dy="-2.6">F</tspan></text>
<text x="658.0" y="458.0" font-size="9.5" text-anchor="middle" font-weight="normal" font-style="normal" fill="#1a1a1a"  stroke="#1a1a1a"><tspan font-weight="bold">15a</tspan>, 33%; 44%<tspan font-size="7" dy="-4.2">c</tspan></text>
<text x="658.0" y="469.4" font-size="9.5" text-anchor="middle" font-weight="normal" font-style="normal" fill="#9a9a9a"  stroke="#9a9a9a">(11 g)</text>
<text x="56.5" y="514.5" font-size="10.4" text-anchor="middle" font-weight="normal" font-style="normal" fill="#1a1a1a"  stroke="#1a1a1a">Me</text>
<path d="M63.7,513.7 L69.5,516.6" fill="none" stroke="#1a1a1a" stroke-width="1.25" stroke-linecap="round" stroke-linejoin="round"/>
<text x="73.5" y="522.4" font-size="10.4" text-anchor="middle" font-weight="normal" font-style="normal" fill="#1a1a1a"  stroke="#1a1a1a">N</text>
<path d="M77.9,516.6 L86.8,511.6" fill="none" stroke="#1a1a1a" stroke-width="1.25" stroke-linecap="round" stroke-linejoin="round"/>
<path d="M86.8,511.6 L99.1,518.8" fill="none" stroke="#1a80f0" stroke-width="2.1" stroke-linecap="round" stroke-linejoin="round"/>
<path d="M99.1,518.8 L112.0,511.6 L120.7,516.6" fill="none" stroke="#1a1a1a" stroke-width="1.25" stroke-linecap="round" stroke-linejoin="round"/>
<text x="122.1" y="522.4" font-size="10.4" text-anchor="start" fill="#1a1a1a" stroke="#1a1a1a">SO<tspan font-size="7.8" dy="2.6">2</tspan><tspan dy="-2.6">F</tspan></text>
<path d="M73.8,523.6 L73.8,533.9" fill="none" stroke="#1a1a1a" stroke-width="1.25" stroke-linecap="round" stroke-linejoin="round"/>
<path d="M73.8,533.9 L65.2,538.3" fill="none" stroke="#1a1a1a" stroke-width="1.25" stroke-linecap="round" stroke-linejoin="round"/>
<text x="60.5" y="544.7" font-size="10.4" text-anchor="middle" font-weight="normal" font-style="normal" fill="#1a1a1a"  stroke="#1a1a1a">H</text>
<path d="M73.8,533.9 L83.0,539.3" fill="none" stroke="#1a1a1a" stroke-width="1.25" stroke-linecap="round" stroke-linejoin="round"/>
<path d="M74.6,537.0 L82.2,541.6" fill="none" stroke="#1a1a1a" stroke-width="1.25" stroke-linecap="round" stroke-linejoin="round"/>
<text x="86.8" y="544.7" font-size="10.4" text-anchor="middle" font-weight="normal" font-style="normal" fill="#1a1a1a"  stroke="#1a1a1a">O</text>
<text x="98.3" y="570.6" font-size="9.5" text-anchor="middle" font-weight="normal" font-style="normal" fill="#1a1a1a"  stroke="#1a1a1a"><tspan font-weight="bold">16a</tspan>, 18%; 27%<tspan font-size="7" dy="-4.2">c</tspan></text>
<text x="98.3" y="582.7" font-size="9.5" text-anchor="middle" font-weight="normal" font-style="normal" fill="#9a9a9a"  stroke="#9a9a9a">(450 mg)</text>
<path d="M200.2,511.1 L213.4,518.8 L213.4,533.9 L200.2,541.9 L186.5,533.9 L186.5,518.8 Z" fill="none" stroke="#1a1a1a" stroke-width="1.25" stroke-linejoin="round"/>
<path d="M200.1,514.6 L210.3,520.6" fill="none" stroke="#1a1a1a" stroke-width="1.25" stroke-linecap="round" stroke-linejoin="round"/>
<path d="M210.4,532.1 L200.1,538.4" fill="none" stroke="#1a1a1a" stroke-width="1.25" stroke-linecap="round" stroke-linejoin="round"/>
<path d="M189.6,532.3 L189.6,520.5" fill="none" stroke="#1a1a1a" stroke-width="1.25" stroke-linecap="round" stroke-linejoin="round"/>
<path d="M213.4,518.8 L226.9,511.6" fill="none" stroke="#1a1a1a" stroke-width="1.25" stroke-linecap="round" stroke-linejoin="round"/>
<path d="M226.9,511.6 L239.1,518.8" fill="none" stroke="#1a80f0" stroke-width="2.1" stroke-linecap="round" stroke-linejoin="round"/>
<path d="M239.1,518.8 L252.8,511.6 L261.5,516.6" fill="none" stroke="#1a1a1a" stroke-width="1.25" stroke-linecap="round" stroke-linejoin="round"/>
<text x="262.5" y="522.4" font-size="10.4" text-anchor="start" fill="#1a1a1a" stroke="#1a1a1a">SO<tspan font-size="7.8" dy="2.6">2</tspan><tspan dy="-2.6">F</tspan></text>
<text x="237.3" y="570.3" font-size="9.5" text-anchor="middle" font-weight="normal" font-style="normal" fill="#1a1a1a"  stroke="#1a1a1a"><tspan font-weight="bold">17a</tspan>, 42%; 46%<tspan font-size="7" dy="-4.2">a</tspan></text>
<text x="237.3" y="582.7" font-size="9.5" text-anchor="middle" font-weight="normal" font-style="normal" fill="#9a9a9a"  stroke="#9a9a9a">(420 mg)</text>
<path d="M342.3,513.0 L357.4,516.6 L358.9,531.8 L344.5,537.5 L334.4,526.0 Z" fill="none" stroke="#1a1a1a" stroke-width="1.25" stroke-linejoin="round"/>
<path d="M358.9,531.8 L371.1,539.0" fill="none" stroke="#1a80f0" stroke-width="2.1" stroke-linecap="round" stroke-linejoin="round"/>
<path d="M371.1,539.0 L384.8,531.8 L393.5,536.8" fill="none" stroke="#1a1a1a" stroke-width="1.25" stroke-linecap="round" stroke-linejoin="round"/>
<text x="394.9" y="542.6" font-size="10.4" text-anchor="start" fill="#1a1a1a" stroke="#1a1a1a">SO<tspan font-size="7.8" dy="2.6">2</tspan><tspan dy="-2.6">F</tspan></text>
<text x="377.2" y="570.3" font-size="9.5" text-anchor="middle" font-weight="normal" font-style="normal" fill="#1a1a1a"  stroke="#1a1a1a"><tspan font-weight="bold">18a</tspan>, 27%; 34%<tspan font-size="7" dy="-4.2">b</tspan></text>
<text x="377.2" y="582.7" font-size="9.5" text-anchor="middle" font-weight="normal" font-style="normal" fill="#9a9a9a"  stroke="#9a9a9a">(140 mg)</text>
<path d="M486.6,508.7 L499.6,516.6 L499.6,531.0 L486.6,539.0 L473.4,531.0 L473.4,516.6 Z" fill="none" stroke="#1a1a1a" stroke-width="1.25" stroke-linejoin="round"/>
<path d="M499.6,531.0 L512.3,538.7" fill="none" stroke="#1a80f0" stroke-width="2.1" stroke-linecap="round" stroke-linejoin="round"/>
<path d="M512.3,538.7 L526.3,531.0 L534.9,536.1" fill="none" stroke="#1a1a1a" stroke-width="1.25" stroke-linecap="round" stroke-linejoin="round"/>
<text x="535.9" y="542.6" font-size="10.4" text-anchor="start" fill="#1a1a1a" stroke="#1a1a1a">SO<tspan font-size="7.8" dy="2.6">2</tspan><tspan dy="-2.6">F</tspan></text>
<text x="517.2" y="570.3" font-size="9.5" text-anchor="middle" font-weight="normal" font-style="normal" fill="#1a1a1a"  stroke="#1a1a1a"><tspan font-weight="bold">19a</tspan>, 26%; 41%<tspan font-size="7" dy="-4.2">c</tspan></text>
<text x="517.2" y="582.7" font-size="9.5" text-anchor="middle" font-weight="normal" font-style="normal" fill="#9a9a9a"  stroke="#9a9a9a">(362 mg)</text>
<text x="644.1" y="517.8" font-size="10.4" text-anchor="middle" font-weight="normal" font-style="normal" fill="#1a1a1a"  stroke="#1a1a1a">Me</text>
<text x="623.6" y="525.7" font-size="10.4" text-anchor="middle" font-weight="normal" font-style="normal" fill="#1a1a1a"  stroke="#1a1a1a">Me</text>
<text x="623.2" y="540.6" font-size="10.4" text-anchor="middle" font-weight="normal" font-style="normal" fill="#1a1a1a"  stroke="#1a1a1a">Me</text>
<path d="M641.2,528.8 L641.2,519.5" fill="none" stroke="#1a1a1a" stroke-width="1.25" stroke-linecap="round" stroke-linejoin="round"/>
<path d="M641.2,528.8 L630.7,524.1" fill="none" stroke="#1a1a1a" stroke-width="1.25" stroke-linecap="round" stroke-linejoin="round"/>
<path d="M641.2,528.8 L629.9,535.1" fill="none" stroke="#1a1a1a" stroke-width="1.25" stroke-linecap="round" stroke-linejoin="round"/>
<path d="M641.2,528.8 L653.5,536.7" fill="none" stroke="#e01010" stroke-width="2.1" stroke-linecap="round" stroke-linejoin="round"/>
<path d="M653.5,536.7 L667.6,528.8 L675.5,533.5" fill="none" stroke="#1a1a1a" stroke-width="1.25" stroke-linecap="round" stroke-linejoin="round"/>
<text x="676.8" y="540.6" font-size="10.4" text-anchor="start" fill="#1a1a1a" stroke="#1a1a1a">SO<tspan font-size="7.8" dy="2.6">2</tspan><tspan dy="-2.6">F</tspan></text>
<text x="675.5" y="517.8" font-size="10" text-anchor="middle" font-weight="normal" font-style="normal" fill="#9a9a9a"  stroke="#9a9a9a">(- CO)</text>
<g transform="translate(0,0)"><path d="M657.6,515.4 Q650.5,517.8 647.0,525.0" fill="none" stroke="#999" stroke-width="0.85"/><path d="M646.0,530.0 L644.5,524.2 L646.9,525.0 L649.0,524.6 Z" fill="#8a8a8a"/></g>
<text x="659.4" y="570.8" font-size="9.5" text-anchor="middle" font-weight="normal" font-style="normal" fill="#1a1a1a"  stroke="#1a1a1a"><tspan font-weight="bold">20b</tspan>, 77% (from <tspan font-style="italic">t</tspan>BuCHO)</text>
<text x="659.4" y="583.5" font-size="9.5" text-anchor="middle" font-weight="normal" font-style="normal" fill="#9a9a9a"  stroke="#9a9a9a">(22 g)</text>
<line x1="39" y1="596.5" x2="727" y2="596.5" stroke="#ebebeb" stroke-width="1" stroke-dasharray="2,2"/>
<text x="45.8" y="614.5" font-size="11" font-style="italic" fill="#1a1a1a" stroke="#1a1a1a">from CH<tspan font-size="7.7" dy="2.5">2</tspan><tspan dy="-2.5">=CMe-SO</tspan><tspan font-size="7.7" dy="2.5">2</tspan><tspan dy="-2.5">F:</tspan></text>
<text x="183.2" y="614.5" font-size="11" font-style="italic" fill="#1a1a1a" stroke="#1a1a1a">from CH<tspan font-size="7.7" dy="2.5">2</tspan><tspan dy="-2.5">=CH-SO</tspan><tspan font-size="7.7" dy="2.5">2</tspan><tspan dy="-2.5">Me:</tspan></text>
<path d="M63.5,663.0 L54.9,657.4 L59.7,642.5 L75.4,642.5 L80.1,657.4 L71.5,663.0" fill="none" stroke="#1a1a1a" stroke-width="1.25" stroke-linecap="round" stroke-linejoin="round"/>
<text x="67.5" y="669.2" font-size="10.4" text-anchor="middle" font-weight="normal" font-style="normal" fill="#1a1a1a"  stroke="#1a1a1a">O</text>
<path d="M80.1,657.4 L94.3,662.1" fill="none" stroke="#1a80f0" stroke-width="2.1" stroke-linecap="round" stroke-linejoin="round"/>
<path d="M94.3,662.1 L106.1,651.9 L114.7,655.0" fill="none" stroke="#1a1a1a" stroke-width="1.25" stroke-linecap="round" stroke-linejoin="round"/>
<path d="M106.1,651.9 L104.8,642.5" fill="none" stroke="#1a1a1a" stroke-width="1.25" stroke-linecap="round" stroke-linejoin="round"/>
<text x="98.0" y="640.9" font-size="10.4" text-anchor="middle" font-weight="normal" font-style="normal" fill="#1a1a1a"  stroke="#1a1a1a">Me</text>
<text x="116.8" y="660.6" font-size="10.4" text-anchor="start" fill="#1a1a1a" stroke="#1a1a1a">SO<tspan font-size="7.8" dy="2.6">2</tspan><tspan dy="-2.6">F</tspan></text>
<text x="98.4" y="697.5" font-size="9.5" text-anchor="middle" fill="#1a1a1a" stroke="#1a1a1a"><tspan font-weight="bold">21a</tspan> (d.r. = 5:4), 59%</text>
<text x="98.4" y="710.0" font-size="9.5" text-anchor="middle" font-weight="normal" font-style="normal" fill="#9a9a9a"  stroke="#9a9a9a">(280 mg)</text>
<text x="190.7" y="651.9" font-size="10.4" text-anchor="middle" font-weight="normal" font-style="normal" fill="#1a1a1a"  stroke="#1a1a1a">Me</text>
<path d="M198.6,650.0 L208.0,655.0" fill="none" stroke="#1a1a1a" stroke-width="1.25" stroke-linecap="round" stroke-linejoin="round"/>
<path d="M208.0,655.0 L208.0,665.3" fill="none" stroke="#1a1a1a" stroke-width="1.25" stroke-linecap="round" stroke-linejoin="round"/>
<text x="211.0" y="673.9" font-size="10.4" text-anchor="middle" font-weight="normal" font-style="normal" fill="#1a1a1a"  stroke="#1a1a1a">Me</text>
<path d="M208.0,655.0 L221.4,647.8" fill="none" stroke="#1a1a1a" stroke-width="1.25" stroke-linecap="round" stroke-linejoin="round"/>
<path d="M220.0,646.8 L220.0,637.8" fill="none" stroke="#1a1a1a" stroke-width="1.25" stroke-linecap="round" stroke-linejoin="round"/>
<path d="M222.8,646.8 L222.8,637.8" fill="none" stroke="#1a1a1a" stroke-width="1.25" stroke-linecap="round" stroke-linejoin="round"/>
<text x="221.4" y="636.5" font-size="10.4" text-anchor="middle" font-weight="normal" font-style="normal" fill="#1a1a1a"  stroke="#1a1a1a">O</text>
<path d="M221.4,647.8 L234.0,655.4" fill="none" stroke="#1a80f0" stroke-width="2.1" stroke-linecap="round" stroke-linejoin="round"/>
<path d="M234.0,655.4 L247.4,647.5 L256.0,652.7" fill="none" stroke="#1a1a1a" stroke-width="1.25" stroke-linecap="round" stroke-linejoin="round"/>
<text x="256.8" y="660.1" font-size="10.4" text-anchor="start" fill="#1a1a1a" stroke="#1a1a1a">SO<tspan font-size="7.8" dy="2.6">2</tspan><tspan dy="-2.6">Me</tspan></text>
<text x="236.8" y="697.8" font-size="9.5" text-anchor="middle" font-weight="normal" font-style="normal" fill="#1a1a1a"  stroke="#1a1a1a"><tspan font-weight="bold">22a</tspan>, 52%</text>
<text x="236.8" y="710.5" font-size="9.5" text-anchor="middle" font-weight="normal" font-style="normal" fill="#9a9a9a"  stroke="#9a9a9a">(26 g)</text>
<path d="M328.4,657.4 L344.1,657.4 L335.9,670.6 Z" fill="none" stroke="#1a1a1a" stroke-width="1.25" stroke-linejoin="round"/>
<path d="M344.1,657.4 L356.7,650.5" fill="none" stroke="#1a1a1a" stroke-width="1.25" stroke-linecap="round" stroke-linejoin="round"/>
<path d="M355.3,649.5 L355.3,640.4" fill="none" stroke="#1a1a1a" stroke-width="1.25" stroke-linecap="round" stroke-linejoin="round"/>
<path d="M358.1,649.5 L358.1,640.4" fill="none" stroke="#1a1a1a" stroke-width="1.25" stroke-linecap="round" stroke-linejoin="round"/>
<text x="356.7" y="638.9" font-size="10.4" text-anchor="middle" font-weight="normal" font-style="normal" fill="#1a1a1a"  stroke="#1a1a1a">O</text>
<path d="M356.7,650.5 L369.3,657.7" fill="none" stroke="#1a80f0" stroke-width="2.1" stroke-linecap="round" stroke-linejoin="round"/>
<path d="M369.3,657.7 L383.4,649.9 L392.1,654.9" fill="none" stroke="#1a1a1a" stroke-width="1.25" stroke-linecap="round" stroke-linejoin="round"/>
<text x="392.9" y="661.7" font-size="10.4" text-anchor="start" fill="#1a1a1a" stroke="#1a1a1a">SO<tspan font-size="7.8" dy="2.6">2</tspan><tspan dy="-2.6">Me</tspan></text>
<text x="343.6" y="697.3" font-size="9.5" fill="#1a1a1a" stroke="#1a1a1a"><tspan font-weight="bold">23a</tspan>, 56% <tspan font-weight="bold" font-style="italic" fill="#1a1a8c" letter-spacing="0.6" stroke="#1a1a8c">[X-ray]</tspan></text>
<text x="377.0" y="710.0" font-size="9.5" text-anchor="middle" font-weight="normal" font-style="normal" fill="#9a9a9a"  stroke="#9a9a9a">(21 g)</text>
<text x="502.3" y="642.8" font-size="10.4" text-anchor="middle" font-weight="normal" font-style="normal" fill="#1a1a1a"  stroke="#1a1a1a">Me</text>
<text x="481.9" y="650.7" font-size="10.4" text-anchor="middle" font-weight="normal" font-style="normal" fill="#1a1a1a"  stroke="#1a1a1a">Me</text>
<text x="481.9" y="665.6" font-size="10.4" text-anchor="middle" font-weight="normal" font-style="normal" fill="#1a1a1a"  stroke="#1a1a1a">Me</text>
<path d="M499.3,653.8 L499.3,644.5" fill="none" stroke="#1a1a1a" stroke-width="1.25" stroke-linecap="round" stroke-linejoin="round"/>
<path d="M499.3,653.8 L489.4,649.1" fill="none" stroke="#1a1a1a" stroke-width="1.25" stroke-linecap="round" stroke-linejoin="round"/>
<path d="M499.3,653.8 L489.4,660.1" fill="none" stroke="#1a1a1a" stroke-width="1.25" stroke-linecap="round" stroke-linejoin="round"/>
<path d="M499.3,653.8 L511.9,661.7" fill="none" stroke="#e01010" stroke-width="2.1" stroke-linecap="round" stroke-linejoin="round"/>
<path d="M511.9,661.7 L525.6,653.8 L534.2,659.3" fill="none" stroke="#1a1a1a" stroke-width="1.25" stroke-linecap="round" stroke-linejoin="round"/>
<text x="535.0" y="665.6" font-size="10.4" text-anchor="start" fill="#1a1a1a" stroke="#1a1a1a">SO<tspan font-size="7.8" dy="2.6">2</tspan><tspan dy="-2.6">Me</tspan></text>
<text x="540.5" y="642.0" font-size="10" text-anchor="middle" font-weight="normal" font-style="normal" fill="#9a9a9a"  stroke="#9a9a9a">(- CO)</text>
<g transform="translate(-136.8,124.0)"><path d="M657.6,515.4 Q650.5,517.8 647.0,525.0" fill="none" stroke="#999" stroke-width="0.85"/><path d="M646.0,530.0 L644.5,524.2 L646.9,525.0 L649.0,524.6 Z" fill="#8a8a8a"/></g>
<text x="522.0" y="697.6" font-size="9.5" text-anchor="middle" font-weight="normal" font-style="normal" fill="#1a1a1a"  stroke="#1a1a1a"><tspan font-weight="bold">24b</tspan>, 82% (from <tspan font-style="italic">t</tspan>BuCHO)</text>
<text x="522.0" y="710.5" font-size="9.5" text-anchor="middle" font-weight="normal" font-style="normal" fill="#9a9a9a"  stroke="#9a9a9a">(31 g)</text>
<text x="587.7" y="655.0" font-size="11" text-anchor="middle" font-weight="normal" font-style="normal" fill="#888"  stroke="#888">=</text>
<rect x="613" y="630" width="2" height="43" fill="#fcfcfc"/>
<rect x="621" y="630" width="2" height="43" fill="#fcfcfc"/>
<rect x="629" y="630" width="2" height="43" fill="#fcfcfc"/>
<rect x="637" y="630" width="2" height="43" fill="#fcfcfc"/>
<rect x="645" y="630" width="2" height="43" fill="#fcfcfc"/>
<rect x="653" y="630" width="2" height="43" fill="#fcfcfc"/>
<rect x="661" y="630" width="2" height="43" fill="#fcfcfc"/>
<rect x="669" y="630" width="2" height="43" fill="#fcfcfc"/>
<rect x="677" y="630" width="2" height="43" fill="#fcfcfc"/>
<rect x="685" y="630" width="2" height="43" fill="#fcfcfc"/>
<rect x="693" y="630" width="2" height="43" fill="#fcfcfc"/>
<rect x="701" y="630" width="2" height="43" fill="#fcfcfc"/>
<path d="M617.8,638.1 L632.0,654.6" fill="none" stroke="#1a1a1a" stroke-width="1.3" stroke-linecap="round" stroke-linejoin="round"/>
<path d="M632.0,654.6 L621.7,666.4" fill="none" stroke="#1a1a1a" stroke-width="1.3" stroke-linecap="round" stroke-linejoin="round"/>
<path d="M632.0,654.6 L636.2,668.0" fill="none" stroke="#1a1a1a" stroke-width="1.3" stroke-linecap="round" stroke-linejoin="round"/>
<path d="M632.0,654.6 L650.8,644.9" fill="none" stroke="#1a1a1a" stroke-width="1.3" stroke-linecap="round" stroke-linejoin="round"/>
<path d="M650.8,644.9 L667.3,659.3" fill="none" stroke="#1a1a1a" stroke-width="1.3" stroke-linecap="round" stroke-linejoin="round"/>
<path d="M667.3,659.3 L688.1,646.7" fill="none" stroke="#1a1a1a" stroke-width="1.3" stroke-linecap="round" stroke-linejoin="round"/>
<path d="M688.1,646.7 L683.4,634.9" fill="none" stroke="#1a1a1a" stroke-width="1.3" stroke-linecap="round" stroke-linejoin="round"/>
<path d="M688.1,646.7 L697.2,635.7" fill="none" stroke="#1a1a1a" stroke-width="1.3" stroke-linecap="round" stroke-linejoin="round"/>
<path d="M688.1,646.7 L705.1,664.8" fill="none" stroke="#1a1a1a" stroke-width="1.3" stroke-linecap="round" stroke-linejoin="round"/>
<ellipse cx="617.8" cy="638.1" rx="3.54" ry="2.95" transform="rotate(0 617.8 638.1)" fill="url(#atg)" stroke="#333" stroke-width="0.8"/>
<ellipse cx="632.0" cy="654.6" rx="3.07" ry="2.60" transform="rotate(0 632.0 654.6)" fill="url(#atg)" stroke="#333" stroke-width="0.8"/>
<ellipse cx="621.7" cy="666.4" rx="2.83" ry="3.78" transform="rotate(-20 621.7 666.4)" fill="url(#atg2)" stroke="#333" stroke-width="0.8"/>
<ellipse cx="636.2" cy="668.0" rx="3.30" ry="3.66" transform="rotate(10 636.2 668.0)" fill="url(#atg)" stroke="#333" stroke-width="0.8"/>
<ellipse cx="650.8" cy="644.9" rx="3.30" ry="2.71" transform="rotate(0 650.8 644.9)" fill="url(#atg)" stroke="#333" stroke-width="0.8"/>
<ellipse cx="667.3" cy="659.3" rx="2.71" ry="2.60" transform="rotate(0 667.3 659.3)" fill="url(#atg)" stroke="#333" stroke-width="0.8"/>
<ellipse cx="683.4" cy="634.9" rx="3.54" ry="3.89" transform="rotate(0 683.4 634.9)" fill="url(#redg)" stroke="#700" stroke-width="0.8"/>
<ellipse cx="697.2" cy="635.7" rx="3.07" ry="3.89" transform="rotate(-30 697.2 635.7)" fill="url(#redg)" stroke="#700" stroke-width="0.8"/>
<ellipse cx="688.1" cy="646.7" rx="3.19" ry="3.19" transform="rotate(0 688.1 646.7)" fill="url(#yelg)" stroke="#860" stroke-width="0.8"/>
<ellipse cx="705.1" cy="664.8" rx="3.19" ry="3.54" transform="rotate(0 705.1 664.8)" fill="url(#atg)" stroke="#333" stroke-width="0.8"/>
<text x="661.0" y="703.4" font-size="9.5" text-anchor="middle" font-weight="bold" font-style="italic" fill="#1a1a8c" letter-spacing="0.6" stroke="#1a1a8c">[X-ray]</text>
<line x1="39" y1="723.5" x2="727" y2="723.5" stroke="#ebebeb" stroke-width="1" stroke-dasharray="2,2"/>
<text x="45.6" y="740.4" font-size="11" font-style="italic" fill="#1a1a1a" stroke="#1a1a1a"><tspan fill="#e01818" stroke="#e01818">Limitations</tspan> (activated aldehydes):</text>
<path d="M188.3,758.3 L184.3,758.3 L184.3,809.6 L188.3,809.6" fill="none" stroke="#555" stroke-width="0.9" stroke-linecap="butt" stroke-linejoin="round"/>
<path d="M588.8,758.3 L592.1,758.3 L592.1,810.0 L588.8,810.0" fill="none" stroke="#555" stroke-width="0.9" stroke-linecap="butt" stroke-linejoin="round"/>
<text x="205.8" y="784.9" font-size="10.4" fill="#1a1a1a" stroke="#1a1a1a">F<tspan font-size="7.8" dy="2.6">3</tspan><tspan dy="-2.6">C</tspan></text>
<path d="M223.2,779.4 L232.4,772.9" fill="none" stroke="#1a1a1a" stroke-width="1.25" stroke-linecap="round" stroke-linejoin="round"/>
<path d="M231.0,771.9 L231.0,762.0" fill="none" stroke="#1a1a1a" stroke-width="1.25" stroke-linecap="round" stroke-linejoin="round"/>
<path d="M233.8,771.9 L233.8,762.0" fill="none" stroke="#1a1a1a" stroke-width="1.25" stroke-linecap="round" stroke-linejoin="round"/>
<text x="232.9" y="760.6" font-size="10.4" text-anchor="middle" font-weight="normal" font-style="normal" fill="#1a1a1a"  stroke="#1a1a1a">O</text>
<path d="M232.2,773.2 L244.6,781.3 L245.8,779.3 L232.6,772.6 Z" fill="#1a1a1a"/>
<path d="M245.2,780.3 L260.0,772.0 L268.2,777.5" fill="none" stroke="#1a1a1a" stroke-width="1.25" stroke-linecap="round" stroke-linejoin="round"/>
<text x="269.0" y="784.9" font-size="10.4" text-anchor="start" fill="#1a1a1a" stroke="#1a1a1a">SO<tspan font-size="7.8" dy="2.6">2</tspan><tspan dy="-2.6">F</tspan></text>
<text x="248.0" y="808.1" font-size="9.5" text-anchor="middle" font-weight="normal" font-style="normal" fill="#1a1a1a"  stroke="#1a1a1a"><tspan font-weight="bold">25a</tspan>, 0%</text>
<text x="247.0" y="820.6" font-size="10" text-anchor="middle" font-weight="normal" font-style="italic" fill="#1a1a1a"  stroke="#1a1a1a">(complex mixture)</text>
<text x="340.6" y="784.9" font-size="10.4" fill="#1a1a1a" stroke="#1a1a1a">Cl<tspan font-size="7.8" dy="2.6">3</tspan><tspan dy="-2.6">C</tspan></text>
<path d="M362.2,779.4 L372.3,772.9" fill="none" stroke="#1a1a1a" stroke-width="1.25" stroke-linecap="round" stroke-linejoin="round"/>
<path d="M370.9,771.9 L370.9,762.0" fill="none" stroke="#1a1a1a" stroke-width="1.25" stroke-linecap="round" stroke-linejoin="round"/>
<path d="M373.7,771.9 L373.7,762.0" fill="none" stroke="#1a1a1a" stroke-width="1.25" stroke-linecap="round" stroke-linejoin="round"/>
<text x="372.3" y="760.6" font-size="10.4" text-anchor="middle" font-weight="normal" font-style="normal" fill="#1a1a1a"  stroke="#1a1a1a">O</text>
<path d="M372.1,773.2 L383.6,781.3 L384.8,779.3 L372.5,772.6 Z" fill="#1a1a1a"/>
<path d="M384.2,780.3 L398.9,772.0 L407.2,777.5" fill="none" stroke="#1a1a1a" stroke-width="1.25" stroke-linecap="round" stroke-linejoin="round"/>
<text x="407.7" y="784.9" font-size="10.4" text-anchor="start" fill="#1a1a1a" stroke="#1a1a1a">SO<tspan font-size="7.8" dy="2.6">2</tspan><tspan dy="-2.6">F</tspan></text>
<text x="382.6" y="808.1" font-size="9.5" text-anchor="middle" font-weight="normal" font-style="normal" fill="#1a1a1a"  stroke="#1a1a1a"><tspan font-weight="bold">26a</tspan>, 0%</text>
<text x="381.5" y="820.6" font-size="10" text-anchor="middle" font-weight="normal" font-style="italic" fill="#1a1a1a"  stroke="#1a1a1a">(complex mixture)</text>
<text x="478.7" y="783.8" font-size="10.4" fill="#1a1a1a" stroke="#1a1a1a">EtO<tspan font-size="7.8" dy="2.6">2</tspan><tspan dy="-2.6">C</tspan></text>
<path d="M507.2,777.5 L517.0,772.0" fill="none" stroke="#1a1a1a" stroke-width="1.25" stroke-linecap="round" stroke-linejoin="round"/>
<path d="M515.6,771.0 L515.6,761.5" fill="none" stroke="#1a1a1a" stroke-width="1.25" stroke-linecap="round" stroke-linejoin="round"/>
<path d="M518.4,771.0 L518.4,761.5" fill="none" stroke="#1a1a1a" stroke-width="1.25" stroke-linecap="round" stroke-linejoin="round"/>
<text x="517.4" y="760.8" font-size="10.4" text-anchor="middle" font-weight="normal" font-style="normal" fill="#1a1a1a"  stroke="#1a1a1a">O</text>
<path d="M516.8,772.3 L529.2,780.9 L530.4,778.9 L517.2,771.7 Z" fill="#1a1a1a"/>
<path d="M529.8,779.9 L544.5,772.0 L552.4,777.5" fill="none" stroke="#1a1a1a" stroke-width="1.25" stroke-linecap="round" stroke-linejoin="round"/>
<text x="553.4" y="783.8" font-size="10.4" text-anchor="start" fill="#1a1a1a" stroke="#1a1a1a">SO<tspan font-size="7.8" dy="2.6">2</tspan><tspan dy="-2.6">F</tspan></text>
<text x="521.7" y="807.3" font-size="9.5" text-anchor="middle" font-weight="normal" font-style="normal" fill="#1a1a1a"  stroke="#1a1a1a"><tspan font-weight="bold">27a</tspan>, 0%</text>
<text x="520.7" y="819.8" font-size="10" text-anchor="middle" font-weight="normal" font-style="italic" fill="#1a1a1a"  stroke="#1a1a1a">(complex mixture)</text>
</svg>
</body></html>
